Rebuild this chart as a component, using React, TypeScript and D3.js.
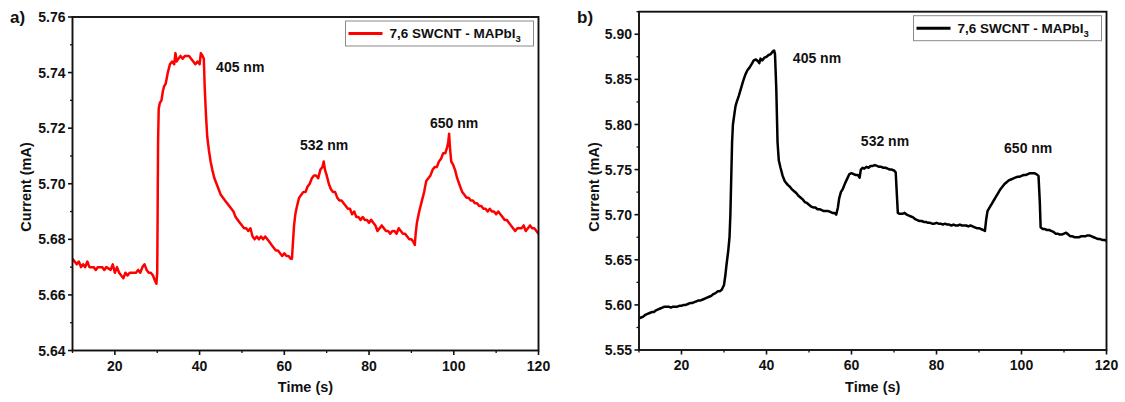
import * as d3 from "d3";

// ---- data ----
const timeA = [
  10, 10.5, 11, 11.5, 12, 12.5, 13, 13.5, 14, 15, 15.5, 16, 17, 17.5, 18, 19, 19.5, 20, 20.5, 21,
  21.5, 22, 22.5, 23, 23.5, 24, 25, 25.5, 26, 26.5, 27, 27.5, 28, 28.5, 29, 29.5, 29.8, 30, 30.1, 30.2,
  30.35, 30.6, 31, 31.3, 31.6, 32, 32.5, 33, 33.5, 34, 34.3, 34.6, 35, 35.5, 36, 36.5, 37, 37.5, 38, 38.5,
  39, 39.5, 40, 40.3, 40.7, 41, 41.2, 41.5, 41.8, 42.2, 42.6, 43, 43.5, 44, 44.5, 45, 46, 46.5, 47, 47.5,
  48, 48.5, 49, 49.5, 50, 50.5, 51, 51.5, 52, 52.5, 53, 53.5, 54, 54.5, 55, 55.5, 56, 56.5, 57, 57.5,
  58, 58.5, 59, 59.5, 60, 60.5, 61, 61.5, 61.8, 62, 62.3, 62.6, 63, 63.5, 64, 64.5, 65, 65.5, 66, 66.5,
  67, 67.5, 68, 68.5, 69, 69.3, 69.6, 70, 70.5, 71, 71.5, 72, 72.5, 73, 73.5, 74, 74.5, 75, 75.5, 76,
  76.5, 77, 77.5, 78, 78.5, 79, 79.5, 80, 80.5, 81, 81.5, 82, 82.5, 83, 83.5, 84, 84.5, 85, 85.5, 86,
  86.5, 87, 87.5, 88, 88.5, 89, 89.5, 90, 90.5, 90.8, 91, 91.3, 91.7, 92, 92.5, 93, 93.5, 94, 94.5, 95,
  95.5, 96, 96.5, 97, 97.5, 98, 98.4, 98.7, 98.9, 99.1, 99.4, 99.8, 100.3, 100.8, 101.5, 102, 102.5, 103, 103.5, 104,
  104.5, 105, 105.5, 106, 106.5, 107, 107.5, 108, 108.5, 109, 109.5, 110, 110.5, 111, 111.5, 112, 112.5, 113, 113.5, 114,
  114.5, 115, 115.5, 116, 116.5, 117, 117.5, 118, 118.5, 119, 119.5, 120,
];
const currentA = [
  5.673, 5.672, 5.671, 5.672, 5.670, 5.671, 5.670, 5.672, 5.670, 5.670, 5.669, 5.670, 5.670, 5.669, 5.670, 5.669, 5.671, 5.668, 5.670, 5.668,
  5.667, 5.666, 5.668, 5.667, 5.668, 5.668, 5.668, 5.669, 5.668, 5.670, 5.671, 5.669, 5.668, 5.668, 5.667, 5.665, 5.664, 5.668, 5.690, 5.715,
  5.727, 5.729, 5.730, 5.733, 5.735, 5.736, 5.740, 5.743, 5.744, 5.743, 5.747, 5.744, 5.745, 5.746, 5.745, 5.746, 5.746, 5.746, 5.745, 5.744,
  5.743, 5.744, 5.743, 5.747, 5.746, 5.745, 5.735, 5.725, 5.717, 5.712, 5.708, 5.705, 5.702, 5.700, 5.698, 5.696, 5.694, 5.693, 5.692, 5.691,
  5.690, 5.688, 5.687, 5.686, 5.685, 5.684, 5.684, 5.683, 5.684, 5.681, 5.680, 5.681, 5.680, 5.681, 5.680, 5.681, 5.680, 5.679, 5.678, 5.677,
  5.676, 5.676, 5.675, 5.674, 5.675, 5.674, 5.674, 5.673, 5.673, 5.678, 5.685, 5.689, 5.692, 5.695, 5.696, 5.697, 5.697, 5.699, 5.700, 5.702,
  5.703, 5.703, 5.702, 5.705, 5.706, 5.708, 5.705, 5.703, 5.700, 5.698, 5.697, 5.697, 5.695, 5.694, 5.694, 5.693, 5.692, 5.691, 5.691, 5.689,
  5.690, 5.688, 5.688, 5.687, 5.688, 5.687, 5.687, 5.686, 5.687, 5.686, 5.685, 5.683, 5.684, 5.685, 5.684, 5.683, 5.683, 5.682, 5.683, 5.683,
  5.682, 5.684, 5.683, 5.682, 5.682, 5.681, 5.680, 5.680, 5.679, 5.678, 5.682, 5.686, 5.689, 5.691, 5.694, 5.697, 5.701, 5.702, 5.703, 5.705,
  5.706, 5.706, 5.708, 5.709, 5.711, 5.711, 5.713, 5.715, 5.718, 5.713, 5.708, 5.707, 5.705, 5.702, 5.699, 5.697, 5.696, 5.695, 5.695, 5.694,
  5.694, 5.693, 5.693, 5.692, 5.692, 5.691, 5.691, 5.690, 5.691, 5.690, 5.690, 5.689, 5.690, 5.689, 5.688, 5.687, 5.687, 5.686, 5.685, 5.684,
  5.683, 5.684, 5.684, 5.684, 5.685, 5.683, 5.684, 5.685, 5.684, 5.684, 5.683, 5.682,
];

const timeB = [
  10, 10.5, 11, 11.5, 12, 12.5, 13, 13.5, 14, 14.5, 15, 15.5, 16, 16.5, 17, 17.5, 18, 18.5, 19, 19.5,
  20, 20.5, 21, 21.5, 22, 22.5, 23, 23.5, 24, 24.5, 25, 25.5, 26, 26.5, 27, 27.5, 28, 28.5, 29, 29.5,
  30, 30.3, 30.6, 31, 31.3, 31.5, 31.7, 31.9, 32.1, 32.4, 32.7, 33, 33.5, 34, 34.5, 35, 35.5, 36, 36.5, 37,
  37.5, 38, 38.3, 38.6, 39, 39.5, 40, 40.5, 41, 41.5, 41.8, 42, 42.3, 42.6, 42.9, 43.3, 43.8, 44.3, 45, 45.5,
  46, 46.5, 47, 47.5, 48, 48.5, 49, 49.5, 50, 50.5, 51, 51.5, 52, 52.5, 53, 53.5, 54, 54.5, 55, 55.5,
  56, 56.4, 56.8, 57.1, 57.5, 58, 58.5, 59, 59.5, 60, 60.5, 61, 61.5, 61.9, 62.2, 62.6, 63, 63.5, 64, 64.5,
  65, 65.5, 66, 66.5, 67, 67.5, 68, 68.5, 69, 69.5, 70, 70.4, 70.7, 70.9, 71.3, 72, 72.5, 73, 73.5, 74,
  74.5, 75, 75.5, 76, 76.5, 77, 77.5, 78, 78.5, 79, 79.5, 80, 80.5, 81, 81.5, 82, 82.5, 83, 83.5, 84,
  84.5, 85, 85.5, 86, 86.5, 87, 87.5, 88, 88.5, 89, 89.5, 90, 90.5, 91, 91.4, 91.7, 92, 92.5, 93, 93.5,
  94, 94.5, 95, 95.5, 96, 96.5, 97, 97.5, 98, 98.5, 99, 99.5, 100, 100.5, 101, 101.5, 102, 102.5, 103, 103.5,
  104, 104.3, 104.5, 105, 105.5, 106, 106.5, 107, 107.5, 108, 108.5, 109, 109.5, 110, 110.5, 111, 111.5, 112, 112.5, 113,
  113.5, 114, 114.5, 115, 115.5, 116, 116.5, 117, 117.5, 118, 118.5, 119, 119.5, 120,
];
const currentB = [
  5.585, 5.586, 5.587, 5.589, 5.590, 5.591, 5.592, 5.592, 5.594, 5.595, 5.596, 5.597, 5.598, 5.598, 5.598, 5.597, 5.598, 5.598, 5.598, 5.599,
  5.599, 5.600, 5.600, 5.601, 5.602, 5.602, 5.603, 5.604, 5.605, 5.605, 5.606, 5.607, 5.608, 5.609, 5.610, 5.612, 5.613, 5.615, 5.615, 5.617,
  5.622, 5.632, 5.645, 5.660, 5.675, 5.700, 5.740, 5.780, 5.800, 5.810, 5.820, 5.825, 5.832, 5.840, 5.848, 5.855, 5.860, 5.863, 5.867, 5.871,
  5.872, 5.870, 5.868, 5.873, 5.871, 5.874, 5.875, 5.877, 5.878, 5.881, 5.882, 5.878, 5.840, 5.780, 5.760, 5.752, 5.743, 5.737, 5.733, 5.731,
  5.728, 5.726, 5.724, 5.721, 5.719, 5.717, 5.714, 5.713, 5.711, 5.709, 5.708, 5.708, 5.706, 5.706, 5.705, 5.704, 5.704, 5.704, 5.703, 5.702,
  5.702, 5.700, 5.708, 5.718, 5.725, 5.729, 5.735, 5.740, 5.745, 5.746, 5.745, 5.744, 5.744, 5.741, 5.750, 5.752, 5.751, 5.753, 5.752, 5.754,
  5.754, 5.755, 5.754, 5.753, 5.753, 5.752, 5.752, 5.751, 5.750, 5.750, 5.749, 5.747, 5.720, 5.702, 5.701, 5.701, 5.702, 5.700, 5.699, 5.698,
  5.697, 5.695, 5.694, 5.693, 5.693, 5.692, 5.692, 5.691, 5.691, 5.690, 5.690, 5.691, 5.690, 5.690, 5.689, 5.690, 5.689, 5.689, 5.688, 5.689,
  5.688, 5.688, 5.689, 5.688, 5.688, 5.688, 5.687, 5.688, 5.687, 5.686, 5.685, 5.685, 5.684, 5.683, 5.682, 5.695, 5.704, 5.708, 5.712, 5.716,
  5.720, 5.724, 5.728, 5.731, 5.734, 5.736, 5.738, 5.739, 5.740, 5.741, 5.742, 5.742, 5.743, 5.744, 5.744, 5.745, 5.746, 5.746, 5.746, 5.745,
  5.743, 5.715, 5.686, 5.684, 5.684, 5.683, 5.683, 5.682, 5.681, 5.679, 5.679, 5.678, 5.678, 5.679, 5.680, 5.678, 5.676, 5.676, 5.675, 5.675,
  5.675, 5.676, 5.676, 5.676, 5.677, 5.677, 5.676, 5.675, 5.674, 5.673, 5.673, 5.672, 5.672, 5.671,
];

const peakLabels = ["405 nm", "532 nm", "650 nm"];
const legendLabel = "7,6 SWCNT - MAPbI";
const xTicks = [20, 40, 60, 80, 100, 120];
const yTicksA = [5.64, 5.66, 5.68, 5.7, 5.72, 5.74, 5.76];
const yTicksB = [5.55, 5.6, 5.65, 5.7, 5.75, 5.8, 5.85, 5.9];

const FONT = "'Liberation Sans', Arial, Helvetica, sans-serif";

function Panel(props) {
  const {
    times, values, color, tag, left, right, top, bottom,
    yDomain, yTicks, yStep, labelAt, tagX, titleOffset,
  } = props;

  const x = d3.scaleLinear().domain([10, 120]).range([left, right]);
  const y = d3.scaleLinear().domain(yDomain).range([bottom, top]);
  const pts = times.map((t, i) => [t, values[i]]);
  const line = d3.line().x((d) => x(d[0])).y((d) => y(d[1]));

  const xMinor = d3.range(10, 121, 10).filter((t) => !xTicks.includes(t));
  const yMinor = yTicks.slice(0, -1).map((v) => v + yStep / 2);
  if (yDomain[1] - yTicks[yTicks.length - 1] > yStep / 2 - 1e-9) {
    yMinor.push(yTicks[yTicks.length - 1] + yStep / 2);
  }
  const fmt = d3.format(".2f");

  const legW = 188;
  const legH = 25;
  const legX = right - legW - 5;
  const legY = top + 4;

  return (
    <g fontFamily={FONT} fontWeight="bold" fill="#111">
      <clipPath id={`clip-${tag}`}>
        <rect x={left} y={top} width={right - left} height={bottom - top} />
      </clipPath>
      <path
        d={line(pts)}
        fill="none"
        stroke={color}
        strokeWidth={2.5}
        strokeLinejoin="round"
        clipPath={`url(#clip-${tag})`}
      />
      <rect x={left} y={top} width={right - left} height={bottom - top} fill="none" stroke="#111" strokeWidth={1.9} />

      {xTicks.map((t) => (
        <g key={t}>
          <line x1={x(t)} x2={x(t)} y1={bottom} y2={bottom + 4.5} stroke="#111" strokeWidth={1.6} />
          <text x={x(t)} y={bottom + 20} textAnchor="middle" fontSize={14}>{t}</text>
        </g>
      ))}
      {xMinor.map((t) => (
        <line key={t} x1={x(t)} x2={x(t)} y1={bottom} y2={bottom + 2.5} stroke="#111" strokeWidth={1.3} />
      ))}
      {yTicks.map((v) => (
        <g key={v}>
          <line x1={left - 4.5} x2={left} y1={y(v)} y2={y(v)} stroke="#111" strokeWidth={1.6} />
          <text x={left - 7} y={y(v)} dy="0.36em" textAnchor="end" fontSize={14}>{fmt(v)}</text>
        </g>
      ))}
      {yMinor.map((v) => (
        <line key={v} x1={left - 2.5} x2={left} y1={y(v)} y2={y(v)} stroke="#111" strokeWidth={1.3} />
      ))}

      <text x={(left + right) / 2} y={392} textAnchor="middle" fontSize={14.5}>Time (s)</text>
      <text
        transform={`translate(${left - titleOffset}, 187) rotate(-90)`}
        textAnchor="middle"
        dy="0.35em"
        fontSize={14.5}
      >
        Current (mA)
      </text>
      <text x={tagX} y={23} fontSize={17}>{tag})</text>

      {peakLabels.map((lab, i) => (
        <text key={lab} x={x(labelAt[i][0])} y={y(labelAt[i][1])} dy="0.35em" fontSize={14}>
          {lab}
        </text>
      ))}

      <rect x={legX} y={legY} width={legW} height={legH} fill="#fff" stroke="#8a8a8a" strokeWidth={1} />
      <line x1={legX + 3} x2={legX + 37} y1={legY + legH / 2} y2={legY + legH / 2} stroke={color} strokeWidth={3} />
      <text x={legX + 44} y={legY + legH / 2} dy="0.36em" fontSize={13.5}>
        {legendLabel}
        <tspan fontSize={9.5} dy="4">3</tspan>
      </text>
    </g>
  );
}

export default function App() {
  return (
    <svg
      width={1125}
      height={402}
      style={{ position: "absolute", left: 0, top: 0, background: "#fff" }}
    >
      <Panel
        tag="a"
        times={timeA}
        values={currentA}
        color="#ff0000"
        left={72.5}
        right={538.5}
        top={17}
        bottom={350.5}
        yDomain={[5.64, 5.76]}
        yTicks={yTicksA}
        yStep={0.02}
        labelAt={[[43.9, 5.742], [63.7, 5.714], [94.4, 5.722]]}
        tagX={10}
        titleOffset={47}
      />
      <Panel
        tag="b"
        times={timeB}
        values={currentB}
        color="#000000"
        left={639}
        right={1106.5}
        top={11.7}
        bottom={350}
        yDomain={[5.55, 5.925]}
        yTicks={yTicksB}
        yStep={0.05}
        labelAt={[[46.2, 5.874], [62.2, 5.782], [95.9, 5.774]]}
        tagX={577}
        titleOffset={45}
      />
    </svg>
  );
}
